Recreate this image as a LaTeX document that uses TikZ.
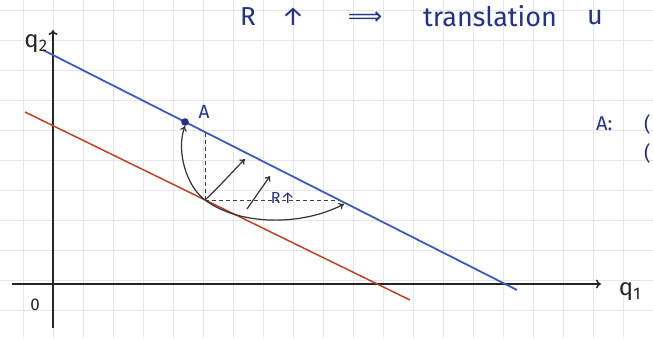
\documentclass[tikz,border=0pt]{standalone}
\usepackage{fontspec}
\setmainfont{Fira Sans}
\newfontfamily\symfont{DejaVu Sans}
\usetikzlibrary{arrows.meta}
\definecolor{penblue}{RGB}{62,92,182}
\definecolor{penred}{RGB}{182,68,38}
\definecolor{inkblue}{RGB}{38,50,130}
\definecolor{gridc}{RGB}{228,230,234}
\begin{document}
\begin{tikzpicture}[x=1pt,y=-1pt,
  gridline/.style={gridc,line width=0.8pt},
  axisline/.style={black!85,line width=1.5pt,-{To[length=5pt,width=9pt]}},
  bluel/.style={penblue,line width=1.8pt},
  redl/.style={penred,line width=1.5pt},
  dashl/.style={black!75,line width=1pt,dash pattern=on 4pt off 3pt},
  movearrow/.style={black!80,line width=1.2pt,-{To[length=5pt,width=7pt]}},
  ink/.style={inkblue,inner sep=0pt},
  blk/.style={black!85,inner sep=0pt}]
\useasboundingbox (0,0) rectangle (653,338);
\fill[white] (0,0) rectangle (653,338);
% paper grid
\foreach \gx in {23,53,...,653} \draw[gridline] (\gx,0) -- (\gx,338);
\foreach \gy in {10,40,...,338} \draw[gridline] (0,\gy) -- (653,\gy);
% coordinates
\coordinate (ybot) at (53,328);
\coordinate (ytop) at (53,30);
\coordinate (xl) at (12,284);
\coordinate (xr) at (601,284);
\coordinate (b1) at (43,50);
\coordinate (b2) at (517,290);
\coordinate (r1) at (25,112);
\coordinate (r2) at (410,300);
\coordinate (A) at (185,122);
\coordinate (Ahead) at (185,126);
\coordinate (X) at (205,200);
\coordinate (vtop) at (205,132);
\coordinate (hend) at (339,200);
\coordinate (m1) at (245,159);
\coordinate (s1) at (247,209);
\coordinate (s2) at (270,176);
\coordinate (m3) at (344,204);
% axes
\draw[axisline] (ybot) -- (ytop);
\draw[axisline] (xl) -- (xr);
% lines
\draw[redl] (r1) -- (r2);
\draw[bluel] (b1) -- (b2);
% dashed projections
\draw[dashl] (X) -- (vtop);
\draw[dashl] (X) -- (hend);
% movement arrows
\draw[movearrow] (X) .. controls (186,186) and (176,150) .. (Ahead);
\draw[movearrow] (X) .. controls (220,186) and (234,170) .. (m1);
\draw[movearrow] (s1) -- (s2);
\draw[movearrow] (X) .. controls (240,226) and (302,226) .. (m3);
% point A
\fill[inkblue] (A) circle (3.8pt);
% labels
\node[blk,font=\fontsize{24}{26}\selectfont] (q2) at (36,44) {q\textsubscript{2}};
\node[blk,font=\fontsize{24}{26}\selectfont] (q1) at (630,292) {q\textsubscript{1}};
\node[blk,font=\fontsize{17}{19}\selectfont] (zero) at (35,305) {0};
\node[ink,font=\fontsize{19}{21}\selectfont] (Alab) at (204,112) {A};
\node[ink,font=\fontsize{16}{18}\selectfont] (Rlab) at (283,198) {R↑};
\node[ink,font=\fontsize{26}{28}\selectfont] (tR) at (248,17) {R};
\node[ink,font=\fontsize{26}{28}\selectfont] (tup) at (293,17) {↑};
\node[ink,font=\symfont\fontsize{24}{26}\selectfont] (timp) at (365,18) {⟹};
\node[ink,font=\fontsize{27}{29}\selectfont] (ttr) at (490,16) {translation};
\node[ink,font=\fontsize{27}{29}\selectfont] (tu) at (595,18) {u};
\node[ink,font=\fontsize{20}{22}\selectfont,anchor=west] (Akey) at (596,124) {A:};
\node[ink,font=\fontsize{20}{22}\selectfont,anchor=west] (k1) at (644,124) {(};
\node[ink,font=\fontsize{20}{22}\selectfont,anchor=west] (k2) at (644,153) {(};
\end{tikzpicture}
\end{document}
